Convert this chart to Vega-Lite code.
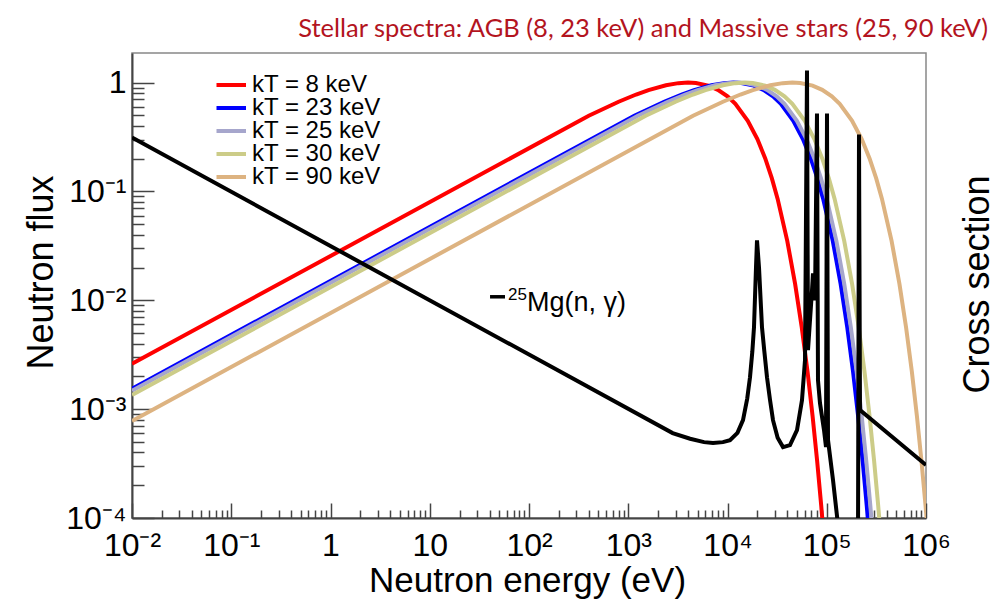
{
  "$schema": "https://vega.github.io/schema/vega-lite/v6.json",
  "width": 794,
  "height": 465,
  "autosize": {"type": "none"},
  "padding": {"left": 132, "top": 53, "right": 71, "bottom": 81},
  "background": "white",
  "config": {
    "font": "Liberation Sans",
    "view": {"stroke": "#888", "strokeWidth": 1.5},
    "axis": {"grid": false, "domainColor": "#444", "tickColor": "#444", "domainWidth": 2, "tickWidth": 1.5, "labelFont": "Liberation Sans", "titleFont": "Liberation Sans", "labelColor": "#000", "titleColor": "#000", "titleFontWeight": "normal", "labelFlush": false, "labelOverlap": false}
  },
  "title": {"text": "Stellar spectra: AGB (8, 23 keV) and Massive stars (25, 90 keV)", "anchor": "end", "frame": "group", "dx": 62, "offset": 11, "font": "Lato", "fontSize": 25.5, "fontWeight": "normal", "color": "#B3141E"},
  "datasets": {
    "flux": [
      {"s": "kT = 8 keV", "E": 0.01, "f": 0.002607}, {"s": "kT = 8 keV", "E": 400, "f": 0.4959}, {"s": "kT = 8 keV", "E": 800, "f": 0.6672}, {"s": "kT = 8 keV", "E": 1200, "f": 0.7773}, {"s": "kT = 8 keV", "E": 1600, "f": 0.8538}, {"s": "kT = 8 keV", "E": 2400, "f": 0.9461}, {"s": "kT = 8 keV", "E": 3200, "f": 0.9885}, {"s": "kT = 8 keV", "E": 4000, "f": 1.0}, {"s": "kT = 8 keV", "E": 4800, "f": 0.9912}, {"s": "kT = 8 keV", "E": 6400, "f": 0.9371}, {"s": "kT = 8 keV", "E": 8000, "f": 0.8578}, {"s": "kT = 8 keV", "E": 10000, "f": 0.7469}, {"s": "kT = 8 keV", "E": 12000, "f": 0.6372}, {"s": "kT = 8 keV", "E": 16000, "f": 0.4463}, {"s": "kT = 8 keV", "E": 20000, "f": 0.3026}, {"s": "kT = 8 keV", "E": 24000, "f": 0.2011}, {"s": "kT = 8 keV", "E": 28000, "f": 0.1317}, {"s": "kT = 8 keV", "E": 32000, "f": 0.08541}, {"s": "kT = 8 keV", "E": 40000, "f": 0.03513}, {"s": "kT = 8 keV", "E": 48000, "f": 0.014157}, {"s": "kT = 8 keV", "E": 56000, "f": 0.005625}, {"s": "kT = 8 keV", "E": 64000, "f": 0.0022123}, {"s": "kT = 8 keV", "E": 72000, "f": 0.0008632}, {"s": "kT = 8 keV", "E": 80000, "f": 0.00033475}, {"s": "kT = 8 keV", "E": 88000, "f": 0.00012916}, {"s": "kT = 8 keV", "E": 96000, "f": 0.00004963},
      {"s": "kT = 23 keV", "E": 0.01, "f": 0.0015375}, {"s": "kT = 23 keV", "E": 1150, "f": 0.4959}, {"s": "kT = 23 keV", "E": 2300, "f": 0.6672}, {"s": "kT = 23 keV", "E": 3450, "f": 0.7773}, {"s": "kT = 23 keV", "E": 4600, "f": 0.8538}, {"s": "kT = 23 keV", "E": 6900, "f": 0.9461}, {"s": "kT = 23 keV", "E": 9200, "f": 0.9885}, {"s": "kT = 23 keV", "E": 11500, "f": 1.0}, {"s": "kT = 23 keV", "E": 13800, "f": 0.9912}, {"s": "kT = 23 keV", "E": 18400, "f": 0.9371}, {"s": "kT = 23 keV", "E": 23000, "f": 0.8578}, {"s": "kT = 23 keV", "E": 28750, "f": 0.7469}, {"s": "kT = 23 keV", "E": 34500, "f": 0.6372}, {"s": "kT = 23 keV", "E": 46000, "f": 0.4463}, {"s": "kT = 23 keV", "E": 57500, "f": 0.3026}, {"s": "kT = 23 keV", "E": 69000, "f": 0.2011}, {"s": "kT = 23 keV", "E": 80500, "f": 0.1317}, {"s": "kT = 23 keV", "E": 92000, "f": 0.08541}, {"s": "kT = 23 keV", "E": 115000, "f": 0.03513}, {"s": "kT = 23 keV", "E": 138000, "f": 0.014157}, {"s": "kT = 23 keV", "E": 161000, "f": 0.005625}, {"s": "kT = 23 keV", "E": 184000, "f": 0.0022123}, {"s": "kT = 23 keV", "E": 207000, "f": 0.0008632}, {"s": "kT = 23 keV", "E": 230000, "f": 0.00033475}, {"s": "kT = 23 keV", "E": 253000, "f": 0.00012916}, {"s": "kT = 23 keV", "E": 276000, "f": 0.00004963},
      {"s": "kT = 25 keV", "E": 0.01, "f": 0.0014746}, {"s": "kT = 25 keV", "E": 1250, "f": 0.4959}, {"s": "kT = 25 keV", "E": 2500, "f": 0.6672}, {"s": "kT = 25 keV", "E": 3750, "f": 0.7773}, {"s": "kT = 25 keV", "E": 5000, "f": 0.8538}, {"s": "kT = 25 keV", "E": 7500, "f": 0.9461}, {"s": "kT = 25 keV", "E": 10000, "f": 0.9885}, {"s": "kT = 25 keV", "E": 12500, "f": 1.0}, {"s": "kT = 25 keV", "E": 15000, "f": 0.9912}, {"s": "kT = 25 keV", "E": 20000, "f": 0.9371}, {"s": "kT = 25 keV", "E": 25000, "f": 0.8578}, {"s": "kT = 25 keV", "E": 31250, "f": 0.7469}, {"s": "kT = 25 keV", "E": 37500, "f": 0.6372}, {"s": "kT = 25 keV", "E": 50000, "f": 0.4463}, {"s": "kT = 25 keV", "E": 62500, "f": 0.3026}, {"s": "kT = 25 keV", "E": 75000, "f": 0.2011}, {"s": "kT = 25 keV", "E": 87500, "f": 0.1317}, {"s": "kT = 25 keV", "E": 100000, "f": 0.08541}, {"s": "kT = 25 keV", "E": 125000, "f": 0.03513}, {"s": "kT = 25 keV", "E": 150000, "f": 0.014157}, {"s": "kT = 25 keV", "E": 175000, "f": 0.005625}, {"s": "kT = 25 keV", "E": 200000, "f": 0.0022123}, {"s": "kT = 25 keV", "E": 225000, "f": 0.0008632}, {"s": "kT = 25 keV", "E": 250000, "f": 0.00033475}, {"s": "kT = 25 keV", "E": 275000, "f": 0.00012916}, {"s": "kT = 25 keV", "E": 300000, "f": 0.00004963},
      {"s": "kT = 30 keV", "E": 0.01, "f": 0.0013462}, {"s": "kT = 30 keV", "E": 1500, "f": 0.4959}, {"s": "kT = 30 keV", "E": 3000, "f": 0.6672}, {"s": "kT = 30 keV", "E": 4500, "f": 0.7773}, {"s": "kT = 30 keV", "E": 6000, "f": 0.8538}, {"s": "kT = 30 keV", "E": 9000, "f": 0.9461}, {"s": "kT = 30 keV", "E": 12000, "f": 0.9885}, {"s": "kT = 30 keV", "E": 15000, "f": 1.0}, {"s": "kT = 30 keV", "E": 18000, "f": 0.9912}, {"s": "kT = 30 keV", "E": 24000, "f": 0.9371}, {"s": "kT = 30 keV", "E": 30000, "f": 0.8578}, {"s": "kT = 30 keV", "E": 37500, "f": 0.7469}, {"s": "kT = 30 keV", "E": 45000, "f": 0.6372}, {"s": "kT = 30 keV", "E": 60000, "f": 0.4463}, {"s": "kT = 30 keV", "E": 75000, "f": 0.3026}, {"s": "kT = 30 keV", "E": 90000, "f": 0.2011}, {"s": "kT = 30 keV", "E": 105000, "f": 0.1317}, {"s": "kT = 30 keV", "E": 120000, "f": 0.08541}, {"s": "kT = 30 keV", "E": 150000, "f": 0.03513}, {"s": "kT = 30 keV", "E": 180000, "f": 0.014157}, {"s": "kT = 30 keV", "E": 210000, "f": 0.005625}, {"s": "kT = 30 keV", "E": 240000, "f": 0.0022123}, {"s": "kT = 30 keV", "E": 270000, "f": 0.0008632}, {"s": "kT = 30 keV", "E": 300000, "f": 0.00033475}, {"s": "kT = 30 keV", "E": 330000, "f": 0.00012916}, {"s": "kT = 30 keV", "E": 360000, "f": 0.00004963},
      {"s": "kT = 90 keV", "E": 0.01, "f": 0.0007772}, {"s": "kT = 90 keV", "E": 4500, "f": 0.4959}, {"s": "kT = 90 keV", "E": 9000, "f": 0.6672}, {"s": "kT = 90 keV", "E": 13500, "f": 0.7773}, {"s": "kT = 90 keV", "E": 18000, "f": 0.8538}, {"s": "kT = 90 keV", "E": 27000, "f": 0.9461}, {"s": "kT = 90 keV", "E": 36000, "f": 0.9885}, {"s": "kT = 90 keV", "E": 45000, "f": 1.0}, {"s": "kT = 90 keV", "E": 54000, "f": 0.9912}, {"s": "kT = 90 keV", "E": 72000, "f": 0.9371}, {"s": "kT = 90 keV", "E": 90000, "f": 0.8578}, {"s": "kT = 90 keV", "E": 112500, "f": 0.7469}, {"s": "kT = 90 keV", "E": 135000, "f": 0.6372}, {"s": "kT = 90 keV", "E": 180000, "f": 0.4463}, {"s": "kT = 90 keV", "E": 225000, "f": 0.3026}, {"s": "kT = 90 keV", "E": 270000, "f": 0.2011}, {"s": "kT = 90 keV", "E": 315000, "f": 0.1317}, {"s": "kT = 90 keV", "E": 360000, "f": 0.08541}, {"s": "kT = 90 keV", "E": 450000, "f": 0.03513}, {"s": "kT = 90 keV", "E": 540000, "f": 0.014157}, {"s": "kT = 90 keV", "E": 630000, "f": 0.005625}, {"s": "kT = 90 keV", "E": 720000, "f": 0.0022123}, {"s": "kT = 90 keV", "E": 810000, "f": 0.0008632}, {"s": "kT = 90 keV", "E": 900000, "f": 0.00033475}, {"s": "kT = 90 keV", "E": 990000, "f": 0.00012916}, {"s": "kT = 90 keV", "E": 1080000, "f": 0.00004963}
    ],
    "xs": [
      {"E": 0.01, "s": 0.3129}, {"E": 2800, "s": 0.000603}, {"E": 4200, "s": 0.000535}, {"E": 5800, "s": 0.0004977}, {"E": 7143, "s": 0.0004877}, {"E": 9000, "s": 0.0004977}, {"E": 10597, "s": 0.0005195}, {"E": 12600, "s": 0.000605}, {"E": 14327, "s": 0.0007925}, {"E": 15800, "s": 0.00125}, {"E": 16855, "s": 0.001966}, {"E": 17800, "s": 0.0034}, {"E": 18493, "s": 0.005654}, {"E": 19373, "s": 0.02009}, {"E": 19825, "s": 0.03552}, {"E": 20769, "s": 0.02009}, {"E": 22260, "s": 0.005654}, {"E": 23500, "s": 0.0034}, {"E": 25003, "s": 0.001966}, {"E": 26800, "s": 0.00122}, {"E": 28733, "s": 0.0007925}, {"E": 32000, "s": 0.000545}, {"E": 36248, "s": 0.0004482}, {"E": 42635, "s": 0.0004674}, {"E": 50154, "s": 0.0006418}, {"E": 56300, "s": 0.001209}, {"E": 60375, "s": 0.002815}, {"E": 63240, "s": 1.288}, {"E": 64730, "s": 0.003477}, {"E": 71010, "s": 0.01235}, {"E": 72680, "s": 0.01769}, {"E": 76120, "s": 0.01}, {"E": 79740, "s": 0.5195}, {"E": 81600, "s": 0.001845}, {"E": 85500, "s": 0.001135}, {"E": 93830, "s": 0.0006418}, {"E": 98260, "s": 0.0004482}, {"E": 100580, "s": 0.5195}, {"E": 102950, "s": 0.0005195}, {"E": 115620, "s": 0.0002232}, {"E": 129830, "s": 0.00008627}, {"E": 152700, "s": 0.00003}, {"E": 201700, "s": 0.00003}, {"E": 206500, "s": 0.00006285}, {"E": 211300, "s": 0.3334}, {"E": 216300, "s": 0.000979}, {"E": 1000000, "s": 0.0003063}
    ]
  },
  "resolve": {"axis": {"x": "independent", "y": "independent"}},
  "layer": [
    {
      "data": {"name": "flux"},
      "mark": {"type": "line", "strokeWidth": 4, "clip": true},
      "encoding": {
        "x": {"field": "E", "type": "quantitative", "scale": {"type": "log", "domain": [0.01, 1000000], "nice": false},
          "axis": {"orient": "bottom", "values": [0.01, 0.1, 1, 10, 100, 1000, 10000, 100000, 1000000], "labelExpr": "datum.value < 0.05 ? '10⁻²' : datum.value < 0.5 ? '10⁻¹' : datum.value < 5 ? '1' : datum.value < 50 ? '10' : datum.value < 500 ? '10²' : datum.value < 5000 ? '10³' : datum.value < 50000 ? '10⁴' : datum.value < 500000 ? '10⁵' : '10⁶'", "labelFontSize": 32, "tickSize": -15, "labelPadding": 27, "labelBaseline": "top", "title": "Neutron energy (eV)", "titleFontSize": 35, "titleX": 395, "titleY": 73, "titleAlign": "center", "titleBaseline": "alphabetic"}},
        "y": {"field": "f", "type": "quantitative", "scale": {"type": "log", "domain": [0.0001, 1.87], "nice": false},
          "axis": {"orient": "left", "values": [0.0001, 0.001, 0.01, 0.1, 1], "labelExpr": "datum.value > 0.5 ? '1' : datum.value > 0.05 ? '10⁻¹' : datum.value > 0.005 ? '10⁻²' : datum.value > 0.0005 ? '10⁻³' : '10⁻⁴'", "labelFontSize": 32, "tickSize": -22, "labelPadding": 28, "title": "Neutron flux", "titleFontSize": 36, "titleAngle": 270, "titleX": -80, "titleY": 122, "titleAlign": "right", "titleBaseline": "alphabetic"}},
        "color": {"field": "s", "type": "nominal",
          "scale": {"domain": ["kT = 8 keV", "kT = 23 keV", "kT = 25 keV", "kT = 30 keV", "kT = 90 keV"], "range": ["#FF0000", "#0000FF", "#A6A6CC", "#CCCC88", "#DDB381"]},
          "legend": {"orient": "none", "legendX": 84.5, "legendY": 21, "title": null, "padding": 0, "symbolType": "M-1.5,0H1.5", "symbolSize": 484, "symbolStrokeWidth": 4, "labelFontSize": 24, "labelFont": "Liberation Sans", "labelColor": "#000", "labelOffset": 9.5, "clipHeight": 22, "rowPadding": -2}}
      }
    },
    {
      "data": {"name": "xs"},
      "mark": {"type": "line", "strokeWidth": 4, "color": "#000", "clip": true},
      "encoding": {
        "x": {"field": "E", "type": "quantitative",
          "axis": {"orient": "bottom", "values": [0.02, 0.03, 0.04, 0.05, 0.06, 0.07, 0.08, 0.09, 0.2, 0.3, 0.4, 0.5, 0.6, 0.7, 0.8, 0.9, 2, 3, 4, 5, 6, 7, 8, 9, 20, 30, 40, 50, 60, 70, 80, 90, 200, 300, 400, 500, 600, 700, 800, 900, 2000, 3000, 4000, 5000, 6000, 7000, 8000, 9000, 20000, 30000, 40000, 50000, 60000, 70000, 80000, 90000, 200000, 300000, 400000, 500000, 600000, 700000, 800000, 900000], "labels": false, "domain": false, "tickSize": -8, "title": null}},
        "y": {"field": "s", "type": "quantitative",
          "axis": {"orient": "left", "values": [0.0002, 0.0003, 0.0004, 0.0005, 0.0006, 0.0007, 0.0008, 0.0009, 0.002, 0.003, 0.004, 0.005, 0.006, 0.007, 0.008, 0.009, 0.02, 0.03, 0.04, 0.05, 0.06, 0.07, 0.08, 0.09, 0.2, 0.3, 0.4, 0.5, 0.6, 0.7, 0.8, 0.9], "labels": false, "domain": false, "tickSize": -12, "title": null}}
      }
    },
    {
      "data": {"values": [{"E": 40.5, "E2": 57.3, "y": 0.01077}]},
      "mark": {"type": "rule", "strokeWidth": 3.5, "color": "#000"},
      "encoding": {
        "x": {"field": "E", "type": "quantitative", "axis": null},
        "x2": {"field": "E2"},
        "y": {"field": "y", "type": "quantitative", "axis": null}
      }
    },
    {
      "data": {"values": [{"E": 95.5, "y": 0.00793, "t": "Mg(n, γ)"}]},
      "mark": {"type": "text", "align": "left", "baseline": "alphabetic", "fontSize": 27, "font": "Liberation Sans", "color": "#000"},
      "encoding": {
        "x": {"field": "E", "type": "quantitative", "axis": null},
        "y": {"field": "y", "type": "quantitative", "axis": null},
        "text": {"field": "t"}
      }
    },
    {
      "data": {"values": [{"E": 61.4, "y": 0.01, "t": "25"}]},
      "mark": {"type": "text", "align": "left", "baseline": "alphabetic", "fontSize": 17, "font": "Liberation Sans", "color": "#000"},
      "encoding": {
        "x": {"field": "E", "type": "quantitative", "axis": null},
        "y": {"field": "y", "type": "quantitative",
          "axis": {"orient": "right", "ticks": false, "labels": false, "domain": false, "title": "Cross section", "titleFontSize": 36, "titleAngle": 270, "titleX": 62, "titleY": 122, "titleAlign": "right", "titleBaseline": "alphabetic"}},
        "text": {"field": "t"}
      }
    }
  ]
}
